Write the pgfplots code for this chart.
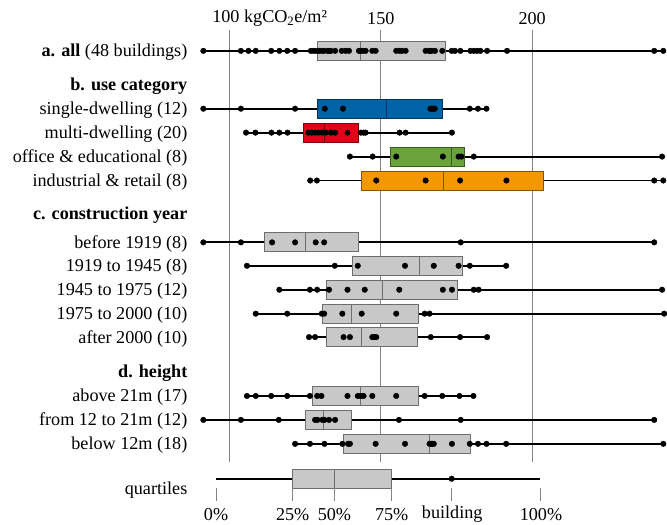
\documentclass[border=0pt]{standalone}
\usepackage{fontspec}
\setmainfont{Liberation Serif}
\usepackage{pgfplots}
\pgfplotsset{compat=1.18}
\usepgfplotslibrary{statistics}
\definecolor{boxgray}{RGB}{200,200,200}
\definecolor{cblue}{RGB}{0,99,166}
\definecolor{cred}{RGB}{226,0,26}
\definecolor{cgreen}{RGB}{106,163,60}
\definecolor{corange}{RGB}{243,152,0}
\definecolor{gridgray}{RGB}{130,130,130}
\newcommand\fs{\fontsize{18.2}{22}\selectfont}
% #1 y position, #2 q1, #3 median, #4 q3, #5 colour
\newcommand{\brow}[5]{\addplot[boxplot prepared={draw position=#1, lower whisker=#2, lower quartile=#2, median=#3, upper quartile=#4, upper whisker=#4, box extend=19, whisker extend=0, draw direction=x}, draw=#5!55!black, fill=#5, line width=0.8pt] coordinates {};}
\newcommand{\pts}[1]{%
\addplot[black, line width=1.9pt, mark=none] coordinates {#1};}
\newcommand{\bdots}[1]{%
\addplot[only marks, mark=*, mark size=2.8pt, black] coordinates {#1};}
\begin{document}
\begin{tikzpicture}
\begin{axis}[
  hide axis, scale only axis, width=467pt, height=526pt,
  xmin=90.12, xmax=243.94, ymin=0, ymax=526, y dir=reverse,
  clip mode=individual,
]
% gridlines
\addplot[gridgray, line width=0.9pt] coordinates {(100,30) (100,463)};
\addplot[gridgray, line width=0.9pt] coordinates {(150,30) (150,463)};
\addplot[gridgray, line width=0.9pt] coordinates {(200,30) (200,463)};

% a. all
\def\D{(91.4,51) (103.8,51) (106.3,51) (108.7,51) (113.8,51) (116.5,51) (119.1,51) (121.7,51) (126.9,51) (127.8,51) (128.6,51) (129.6,51) (130.5,51) (131.3,51) (132.4,51) (133.0,51) (133.5,51) (134.9,51) (137.1,51) (138.4,51) (139.5,51) (142.8,51) (143.3,51) (144.1,51) (145.0,51) (147.2,51) (148.3,51) (155.1,51) (156.2,51) (157.0,51) (158.2,51) (164.8,51) (165.9,51) (166.3,51) (166.8,51) (167.9,51) (170.3,51) (173.4,51) (174.5,51) (176.3,51) (179.6,51) (180.7,51) (181.8,51) (182.9,51) (185.1,51) (191.7,51) (240.3,51) (243.3,51)}
\pts{\D}\brow{51}{129.1}{143.1}{171.2}{boxgray}\bdots{\D}

% single-dwelling
\def\D{(91.4,109) (103.8,109) (121.7,109) (131.5,109) (137.5,109) (166.4,109) (166.8,109) (167.2,109) (167.8,109) (179.4,109) (182.1,109) (184.9,109)}
\pts{\D}\brow{109}{129.1}{152.0}{170.5}{cblue}\bdots{\D}

% multi-dwelling
\def\D{(105.5,133) (108.6,133) (113.9,133) (116.5,133) (119.2,133) (126.1,133) (127.2,133) (128.3,133) (129.4,133) (130.7,133) (131.8,133) (133.5,133) (134.9,133) (139.0,133) (143.4,133) (144.3,133) (145.0,133) (156.2,133) (158.2,133) (173.5,133)}
\pts{\D}\brow{133}{124.4}{131.3}{142.6}{cred}\bdots{\D}

% office & educational
\def\D{(139.8,157) (147.3,157) (155.1,157) (170.5,157) (175.7,157) (176.6,157) (180.7,157) (242.9,157)}
\pts{\D}\brow{157}{153.3}{173.3}{177.5}{cgreen}\bdots{\D}

% industrial & retail
\def\D{(126.7,181) (128.9,181) (148.5,181) (164.8,181) (176.2,181) (191.5,181) (240.3,181) (243.3,181)}
\pts{\D}\brow{181}{143.6}{170.6}{203.6}{corange}\bdots{\D}

% before 1919
\def\D{(91.4,243) (103.8,243) (114.1,243) (121.7,243) (128.5,243) (131.3,243) (176.4,243) (240.3,243)}
\pts{\D}\brow{243}{111.5}{125.1}{142.6}{boxgray}\bdots{\D}

% 1919 to 1945
\def\D{(105.8,266.5) (134.8,266.5) (142.4,266.5) (158.0,266.5) (167.5,266.5) (175.7,266.5) (179.4,266.5) (191.4,266.5)}
\pts{\D}\brow{266.5}{140.5}{162.8}{176.8}{boxgray}\bdots{\D}

% 1945 to 1975
\def\D{(116.5,290.5) (126.6,290.5) (129.0,290.5) (132.9,290.5) (139.0,290.5) (144.7,290.5) (156.1,290.5) (170.5,290.5) (173.5,290.5) (180.7,290.5) (182.3,290.5) (242.9,290.5)}
\pts{\D}\brow{290.5}{131.9}{150.5}{175.3}{boxgray}\bdots{\D}

% 1975 to 2000
\def\D{(108.7,314.5) (119.1,314.5) (130.5,314.5) (131.3,314.5) (137.3,314.5) (143.7,314.5) (155.1,314.5) (164.5,314.5) (166.1,314.5) (243.6,314.5)}
\pts{\D}\brow{314.5}{130.7}{140.4}{162.3}{boxgray}\bdots{\D}

% after 2000
\def\D{(126.3,338) (128.3,338) (137.7,338) (139.8,338) (147.2,338) (147.9,338) (148.5,338) (166.5,338) (176.2,338) (185.1,338)}
\pts{\D}\brow{338}{132.1}{143.6}{162.0}{boxgray}\bdots{\D}

% above 21m
\def\D{(105.8,397) (108.7,397) (113.8,397) (119.1,397) (126.6,397) (129.0,397) (130.4,397) (139.0,397) (142.4,397) (143.4,397) (144.3,397) (147.2,397) (155.1,397) (164.5,397) (170.3,397) (176.0,397) (180.6,397)}
\pts{\D}\brow{397}{127.4}{143.2}{162.3}{boxgray}\bdots{\D}

% from 12 to 21m
\def\D{(91.4,421) (103.8,421) (116.3,421) (128.3,421) (129.1,421) (130.7,421) (131.4,421) (132.9,421) (134.9,421) (156.0,421) (176.4,421) (240.3,421)}
\pts{\D}\brow{421}{125.2}{131.0}{140.2}{boxgray}\bdots{\D}

% below 12m
\def\D{(121.7,445) (126.6,445) (131.4,445) (137.3,445) (139.2,445) (139.8,445) (148.3,445) (158.0,445) (166.1,445) (166.8,445) (167.0,445) (167.5,445) (173.5,445) (179.4,445) (182.1,445) (184.9,445) (191.4,445) (243.3,445)}
\pts{\D}\brow{445}{137.6}{166.2}{179.6}{boxgray}\bdots{\D}

% quartiles legend
\def\D{(95.6,480) (202.7,480)}
\pts{\D}\brow{480}{120.9}{134.7}{153.6}{boxgray}
\addplot[only marks, mark=*, mark size=2.8pt, black] coordinates {(173.4,480)};
\addplot[gridgray, line width=0.8pt] coordinates {(95.6,489) (95.6,502)};
\addplot[gridgray, line width=0.8pt] coordinates {(120.9,489) (120.9,502)};
\addplot[gridgray, line width=0.8pt] coordinates {(134.7,489) (134.7,502)};
\addplot[gridgray, line width=0.8pt] coordinates {(153.6,489) (153.6,502)};
\addplot[gridgray, line width=0.8pt] coordinates {(173.4,489) (173.4,502)};
\addplot[gridgray, line width=0.8pt] coordinates {(202.7,489) (202.7,502)};

% text
\begin{scope}[every node/.style={font=\fs, inner sep=0pt, yshift=-1.6pt}]
\node[anchor=west] at (axis cs:94.3,17) {100 kgCO\textsubscript{2}e/m²};
\node at (axis cs:150,17) {150};
\node at (axis cs:200,17) {200};
\node[anchor=east] at (axis cs:86.17,51) {\textbf{a. all} (48 buildings)};
\node[anchor=east] at (axis cs:86.17,85) {\textbf{b. use category}};
\node[anchor=east] at (axis cs:86.17,109) {single-dwelling (12)};
\node[anchor=east] at (axis cs:86.17,133) {multi-dwelling (20)};
\node[anchor=east] at (axis cs:86.17,157) {office \& educational (8)};
\node[anchor=east] at (axis cs:86.17,181) {industrial \& retail (8)};
\node[anchor=east] at (axis cs:86.17,214) {\textbf{c. construction year}};
\node[anchor=east] at (axis cs:86.17,243) {before 1919 (8)};
\node[anchor=east] at (axis cs:86.17,266.5) {1919 to 1945 (8)};
\node[anchor=east] at (axis cs:86.17,290.5) {1945 to 1975 (12)};
\node[anchor=east] at (axis cs:86.17,314.5) {1975 to 2000 (10)};
\node[anchor=east] at (axis cs:86.17,338) {after 2000 (10)};
\node[anchor=east] at (axis cs:86.17,373) {\textbf{d. height}};
\node[anchor=east] at (axis cs:86.17,397) {above 21m (17)};
\node[anchor=east] at (axis cs:86.17,421) {from 12 to 21m (12)};
\node[anchor=east] at (axis cs:86.17,445) {below 12m (18)};
\node[anchor=east] at (axis cs:86.17,490) {quartiles};
\node at (axis cs:95.6,514) {0\%};
\node at (axis cs:120.9,514) {25\%};
\node at (axis cs:134.7,514) {50\%};
\node at (axis cs:153.6,514) {75\%};
\node at (axis cs:173.6,514) {building};
\node at (axis cs:202.9,514) {100\%};
\end{scope}
\path (axis cs:24.24,0) rectangle (axis cs:243.94,526);
\end{axis}
\end{tikzpicture}
\end{document}
